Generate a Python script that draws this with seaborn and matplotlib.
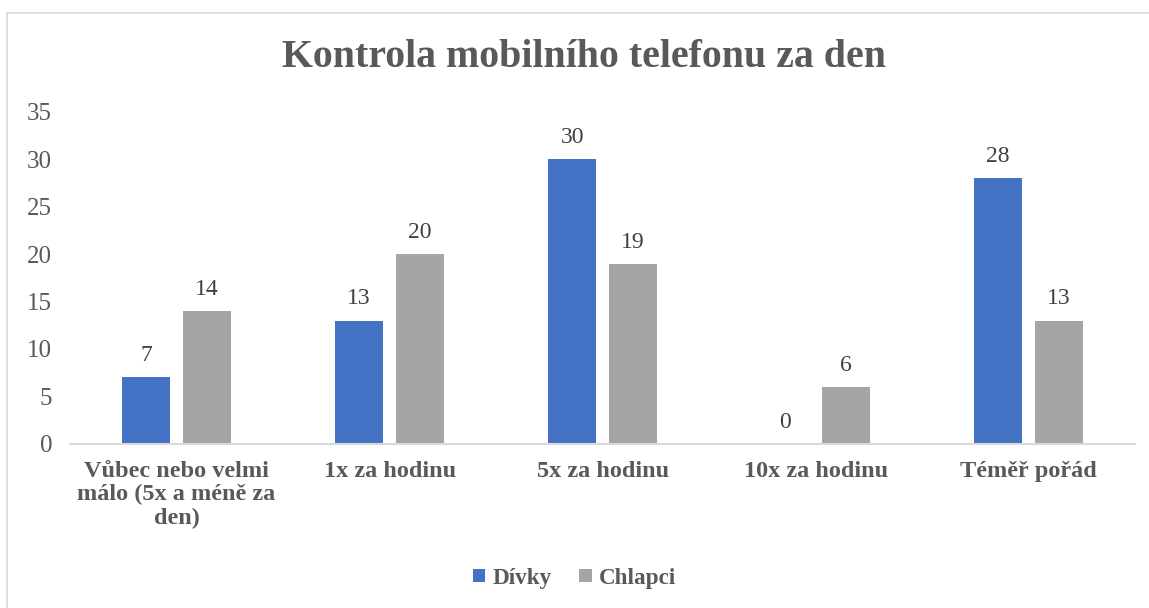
import matplotlib
matplotlib.use("Agg")
import matplotlib.pyplot as plt
import pandas as pd
import seaborn as sns
from matplotlib.lines import Line2D
from matplotlib.patches import Patch

categories = [
    "Vůbec nebo velmi\nmálo (5x a méně za\nden)",
    "1x za hodinu",
    "5x za hodinu",
    "10x za hodinu",
    "Téměř pořád",
]
divky = [7, 13, 30, 0, 28]
chlapci = [14, 20, 19, 6, 13]
series = ["Dívky", "Chlapci"]
colors = ["#4472C4", "#A5A5A5"]
text_color = "#595959"

df = pd.DataFrame({
    "kategorie": categories * 2,
    "pocet": divky + chlapci,
    "pohlavi": [series[0]] * len(categories) + [series[1]] * len(categories),
})

sns.set_theme(style="white")
plt.rcParams["font.family"] = ["Liberation Serif", "DejaVu Serif"]

fig = plt.figure(figsize=(11.49, 6.08), dpi=100)
ax = fig.add_axes([0.061, 0.270, 0.927, 0.546])

sns.barplot(
    data=df, x="kategorie", y="pocet", hue="pohlavi",
    order=categories, hue_order=series, palette=colors,
    width=0.573, gap=0.21, saturation=1, legend=False, linewidth=0, ax=ax,
)

for container in ax.containers:
    ax.bar_label(container, fmt="%d", padding=8, fontsize=17, color="#404040")

ax.set_ylim(0, 35)
ax.set_yticks(range(0, 36, 5))
ax.set_xlim(-0.5, len(categories) - 0.5)
ax.set_xlabel("")
ax.set_ylabel("")
ax.tick_params(axis="y", labelsize=18, labelcolor=text_color, length=0, pad=13)
ax.tick_params(axis="x", labelsize=17.5, labelcolor=text_color, length=0, pad=12)
for lbl in ax.get_xticklabels():
    lbl.set_fontweight("bold")
    lbl.set_linespacing(1.15)

for side in ["top", "right", "left"]:
    ax.spines[side].set_visible(False)
ax.spines["bottom"].set_color("#D9D9D9")
ax.spines["bottom"].set_linewidth(1.5)

fig.text(0.508, 0.905, "Kontrola mobilního telefonu za den", ha="center", va="center",
         fontsize=28.7, fontweight="bold", color=text_color)

handles = [Patch(facecolor=c, edgecolor="none") for c in colors]
fig.legend(handles, series, loc="center", bbox_to_anchor=(0.5, 0.049), ncol=2,
           frameon=False, handlelength=0.55, handleheight=0.55, handletextpad=0.3,
           columnspacing=1.2, prop={"size": 16.7, "weight": "bold"}, labelcolor=text_color)

# chart frame
fig.add_artist(Line2D([7 / 1149, 1], [1 - 13 / 608, 1 - 13 / 608], color="#D9D9D9", lw=1.2))
fig.add_artist(Line2D([7 / 1149, 7 / 1149], [0, 1 - 13 / 608], color="#D9D9D9", lw=1.2))

fig.savefig("out.png", dpi=100)
